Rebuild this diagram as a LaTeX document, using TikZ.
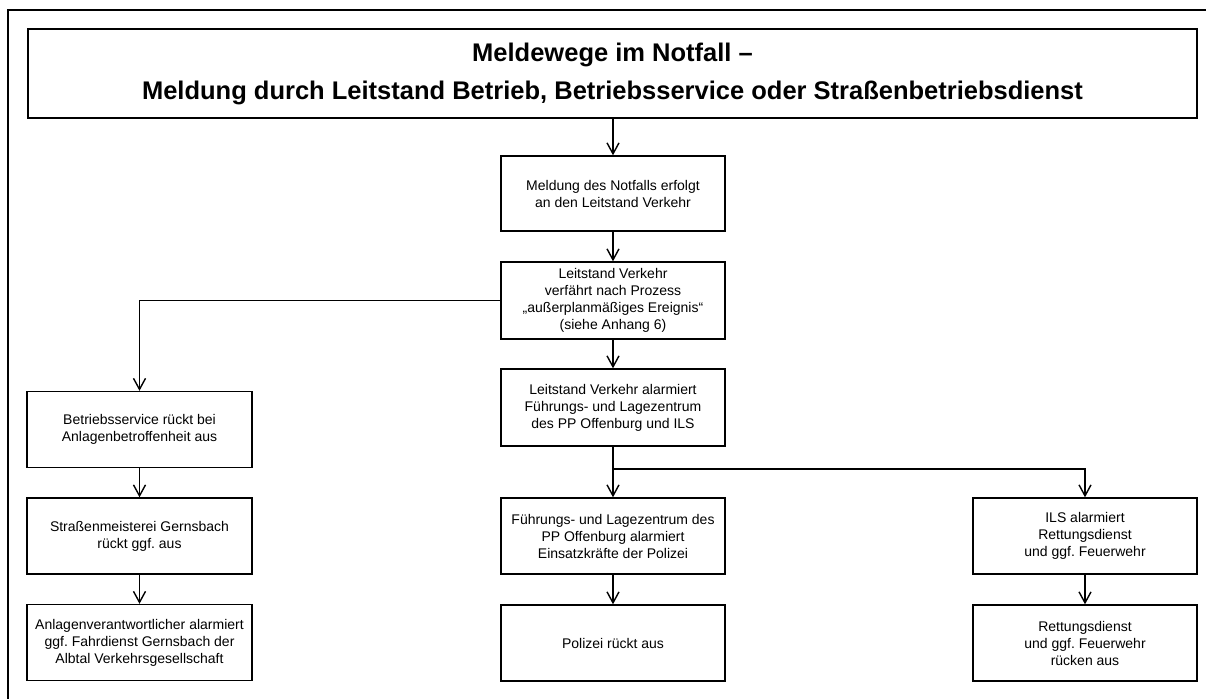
\documentclass[tikz,border=0pt]{standalone}
\usepackage{fontspec}
\setmainfont{Liberation Sans}
\usetikzlibrary{arrows.meta,positioning}
\frenchspacing

\tikzset{
	kasten/.style={draw, line width=1.4pt, align=center, minimum width=224pt,
		minimum height=76pt, inner sep=2pt, font=\fontsize{14}{17}\selectfont},
	pfeil/.style={line width=1.4pt, -{Straight Barb[length=11pt,width=12pt,line width=1.4pt]}},
	linie/.style={line width=1.4pt}
}

\begin{document}
\begin{tikzpicture}[x=1pt, y=-1pt]
	\useasboundingbox (0,0) rectangle (1206,698);
	
	% offener Rahmen
	\draw[line width=2pt] (8,710) -- (8,10) -- (1215,10);
	
	% Kopf
	\node[draw, line width=1.4pt, minimum width=1169pt, minimum height=89pt, align=center,
		font=\fontsize{25.5}{38}\selectfont\bfseries] (titel) at (612.5,73.5)
		{Meldewege im Notfall --\\Meldung durch Leitstand Betrieb, Betriebsservice oder Straßenbetriebsdienst};
	
	% mittlere Spalte
	\node[kasten, minimum height=75pt] (meldung) at (613,193.5) {Meldung des Notfalls erfolgt\\an den Leitstand Verkehr};
	\node[kasten, minimum height=77pt] (prozess) at (613,300.5) {Leitstand Verkehr\\verfährt nach Prozess\\„außerplanmäßiges Ereignis“\\(siehe Anhang 6)};
	\node[kasten, minimum height=77pt] (alarm) at (613,407.5) {Leitstand Verkehr alarmiert\\Führungs- und Lagezentrum\\des PP Offenburg und ILS};
	\node[kasten] (fuehrung) at (613,536) {Führungs- und Lagezentrum des\\PP Offenburg alarmiert\\Einsatzkräfte der Polizei};
	\node[kasten] (polizei) at (613,643) {Polizei rückt aus};
	
	% linke Spalte
	\node[kasten, minimum width=225pt] (service) at (139.5,429.5) {Betriebsservice rückt bei\\Anlagenbetroffenheit aus};
	\node[kasten, minimum width=225pt] (meisterei) at (139.5,536) {Straßenmeisterei Gernsbach\\rückt ggf. aus};
	\node[kasten, minimum width=225pt] (anlage) at (139.5,642.5) {Anlagenverantwortlicher alarmiert\\ggf. Fahrdienst Gernsbach der\\Albtal Verkehrsgesellschaft};
	
	% rechte Spalte
	\node[kasten] (ils) at (1085,536) {ILS alarmiert\\Rettungsdienst\\und ggf. Feuerwehr};
	\node[kasten] (rettung) at (1085,643) {Rettungsdienst\\und ggf. Feuerwehr\\rücken aus};
	
	\coordinate (verzweigung) at (613,469);
	
	% Verbindungen
	\draw[pfeil] (titel.south -| meldung) -- (meldung);
	\draw[pfeil] (meldung) -- (prozess);
	\draw[pfeil] (prozess) -- (alarm);
	\draw[pfeil] (prozess.west) -| (service.north);
	\draw[pfeil] (service) -- (meisterei);
	\draw[pfeil] (meisterei) -- (anlage);
	\draw[pfeil] (alarm) -- (fuehrung);
	\draw[pfeil] (fuehrung) -- (polizei);
	\draw[pfeil] (verzweigung) -| (ils.north);
	\draw[pfeil] (ils) -- (rettung);
\end{tikzpicture}
\end{document}
